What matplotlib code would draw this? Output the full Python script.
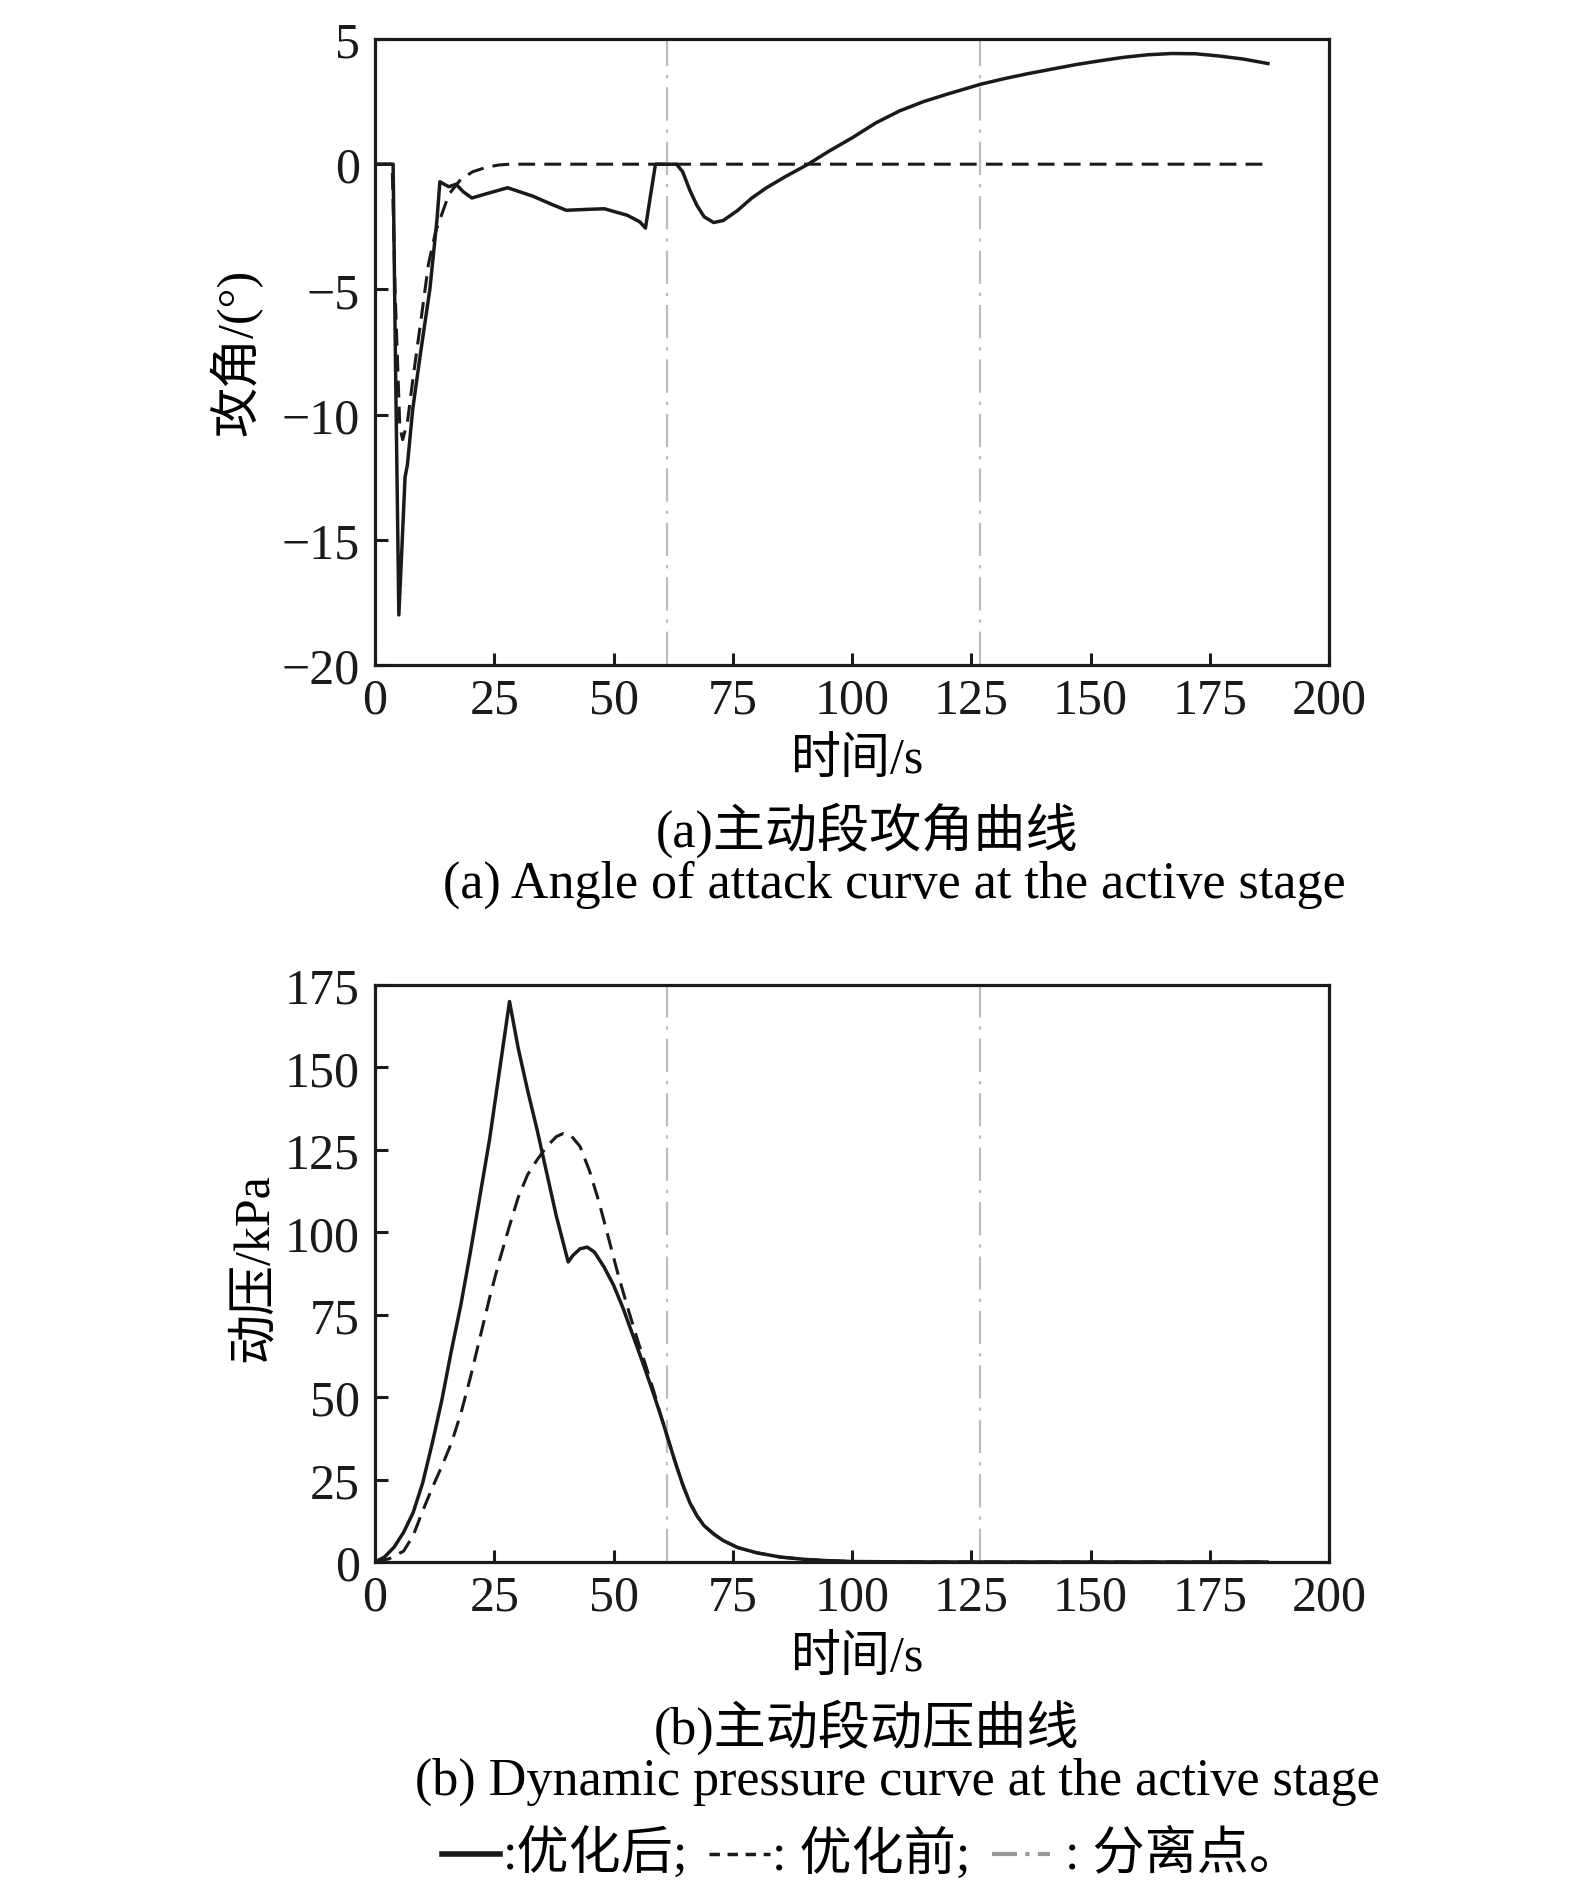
import matplotlib
matplotlib.use("Agg")
import matplotlib.pyplot as plt
from matplotlib.lines import Line2D

plt.rcParams['font.family'] = ['Liberation Serif', 'Noto Sans CJK SC']
plt.rcParams['font.size'] = 36
plt.rcParams['axes.unicode_minus'] = True

# ---- data ----
# (a) angle of attack, deg
t_aoa_opt = [0, 3.8, 4.3, 5.0, 5.6, 6.3, 6.8, 7.9, 9.5, 11.5, 13.0, 13.6, 14.5, 15.5,
             17.0, 18.5, 20.3, 23.0, 27.8, 33.0, 37.0, 40.1, 45.0, 48.1, 52.9, 55.5,
             56.7, 57.8, 58.8, 63.2, 64.5, 66.0, 67.5, 69.0, 71.0, 73.0, 76.0, 79.0,
             82.0, 86.0, 90.8, 95.0, 100.0, 105.0, 110.0, 115.0, 120.0, 126.9, 132.0,
             137.0, 142.0, 147.0, 152.0, 157.0, 162.0, 167.0, 172.0, 177.0, 182.0, 187.2]
aoa_opt = [0, 0, -8.0, -18.0, -15.5, -12.5, -12.0, -9.8, -7.6, -5.0, -2.2, -0.7, -0.8, -0.9,
           -0.8, -1.1, -1.35, -1.2, -0.94, -1.27, -1.6, -1.84, -1.8, -1.78, -2.04, -2.3,
           -2.55, -1.2, 0.0, 0.0, -0.3, -1.04, -1.65, -2.1, -2.33, -2.25, -1.85, -1.35,
           -0.95, -0.5, 0.0, 0.5, 1.05, 1.65, 2.13, 2.5, 2.8, 3.19, 3.42,
           3.62, 3.8, 3.98, 4.13, 4.27, 4.37, 4.42, 4.41, 4.32, 4.2, 4.02]

t_aoa_ori = [0, 3.6, 4.2, 5.2, 5.8, 6.8, 8.0, 9.8, 11.2, 12.7, 14.0, 15.5, 18.0, 20.5,
             23.4, 26.0, 28.2, 186.3]
aoa_ori = [0, 0, -5.0, -10.5, -11.0, -10.3, -8.5, -6.0, -4.0, -2.7, -2.0, -1.2, -0.6,
           -0.3, -0.12, -0.03, 0, 0]

# (b) dynamic pressure, kPa
t_q_opt = [0, 2, 4, 6, 8, 10, 12, 14, 16, 18, 20, 22, 24, 26, 28.2, 30, 32, 34, 36, 38,
           40.5, 41.5, 43, 44.5, 46, 48, 50, 52, 54, 56, 58, 60, 61.5, 63, 64.5, 66, 67.5,
           69, 71, 73, 76, 80, 85, 90, 95, 100, 110, 120, 187]
q_opt = [0, 1.5, 4.5, 9, 15, 24, 36, 49, 64, 78, 94, 111, 128, 148, 170, 156, 143, 131,
         118, 105, 91, 93, 95, 95.5, 94, 89.5, 84, 77, 69, 61, 52.7, 44, 37, 30, 23.5,
         18, 14, 11, 8.5, 6.5, 4.4, 2.8, 1.5, 0.8, 0.4, 0.15, 0.05, 0, 0]

t_q_ori = [0, 3, 6, 8, 10, 12, 14, 16, 18, 20, 22, 24, 26, 28, 30, 32, 34, 36, 38, 39.5,
           41, 43, 45, 47, 49, 51, 53, 55, 57, 58.5, 60, 61.5, 63, 64.5, 66, 67.5, 69, 71,
           73, 76, 80, 85, 90, 95, 100, 110, 120, 187]
q_ori = [0, 1, 3.3, 8, 15.5, 22.5, 29, 36, 45, 56, 68, 80, 91, 101, 110.5, 117.5, 122,
         126, 129, 130, 129.5, 126, 118.5, 109, 98, 87, 77, 67.5, 58.5, 51.5, 44, 37, 30,
         23.5, 18, 14, 11, 8.5, 6.5, 4.4, 2.8, 1.5, 0.8, 0.4, 0.15, 0.05, 0, 0]

# separation points, s
t_sep = [61.2, 126.9]

x_ticks = [0, 25, 50, 75, 100, 125, 150, 175, 200]
aoa_ticks = [-20, -15, -10, -5, 0, 5]
q_ticks = [0, 25, 50, 75, 100, 125, 150, 175]

W, H = 1575, 1899
fig = plt.figure(figsize=(W / 100, H / 100), dpi=100)


def fx(px):
    return px / W


def fy(py):
    return 1 - py / H


ax1 = fig.add_axes([fx(375), fy(666), fx(1329) - fx(375), fy(40) - fy(666)])
ax2 = fig.add_axes([fx(375), fy(1563), fx(1329) - fx(375), fy(986) - fy(1563)])

sep_style = dict(color='#bdbdbd', lw=1.6, ls=(0, (15, 4, 1.5, 4)), zorder=1)
solid_style = dict(color='#1a1a1a', lw=2.5, zorder=3)
dash_style = dict(color='#1a1a1a', lw=2.2, ls=(0, (5.5, 3)), zorder=2)

for ax in (ax1, ax2):
    for t in t_sep:
        ax.axvline(t, **sep_style)

ax1.plot(t_aoa_ori, aoa_ori, **dash_style)
ax1.plot(t_aoa_opt, aoa_opt, **solid_style)
ax2.plot(t_q_ori, q_ori, **dash_style)
ax2.plot(t_q_opt, q_opt, **solid_style)

ax1.set_xlim(0, 200)
ax1.set_ylim(-20, 5)
ax1.set_yticks(aoa_ticks)
ax2.set_xlim(0, 200)
ax2.set_ylim(0, 175)
ax2.set_yticks(q_ticks)

for ax in (ax1, ax2):
    ax.set_xticks(x_ticks)
    for s in ax.spines.values():
        s.set_linewidth(2.3)
        s.set_color('#1a1a1a')
    ax.tick_params(direction='in', length=9, width=2.2, top=False, right=False,
                   colors='#1a1a1a', labelsize=36)
    ax.tick_params(axis='x', pad=9)
    ax.tick_params(axis='y', pad=11)

# axis labels
fig.text(fx(236), fy(352), '攻角/(°)', rotation=90, ha='center', va='center')
fig.text(fx(858), fy(761), '时间/s', ha='center', va='center')
fig.text(fx(254), fy(1268), '动压/kPa', rotation=90, ha='center', va='center')
fig.text(fx(858), fy(1659), '时间/s', ha='center', va='center')

# captions
cap = 37.5
fig.text(fx(867), fy(830), '(a)主动段攻角曲线', ha='center', va='center', fontsize=cap)
fig.text(fx(894), fy(885), '(a) Angle of attack curve at the active stage',
         ha='center', va='center', fontsize=cap)
fig.text(fx(867), fy(1727), '(b)主动段动压曲线', ha='center', va='center', fontsize=cap)
fig.text(fx(897), fy(1782), '(b) Dynamic pressure curve at the active stage',
         ha='center', va='center', fontsize=cap)

# legend line at the bottom
ly = 1855
fig.add_artist(Line2D([fx(442), fx(500)], [fy(ly), fy(ly)], color='#1a1a1a', lw=4))
fig.text(fx(503), fy(ly), ':优化后;', ha='left', va='center', fontsize=cap)
fig.add_artist(Line2D([fx(709), fx(770)], [fy(ly), fy(ly)], color='#1a1a1a', lw=2.5,
                      ls=(0, (3, 2.2))))
fig.text(fx(772), fy(ly), ': 优化前;', ha='left', va='center', fontsize=cap)
fig.add_artist(Line2D([fx(992), fx(1050)], [fy(ly), fy(ly)], color='#9a9a9a', lw=3,
                      ls=(0, (6, 2, 1, 2))))
fig.text(fx(1052), fy(ly), ' : 分离点。', ha='left', va='center', fontsize=cap)

fig.savefig('out.png', dpi=100)
